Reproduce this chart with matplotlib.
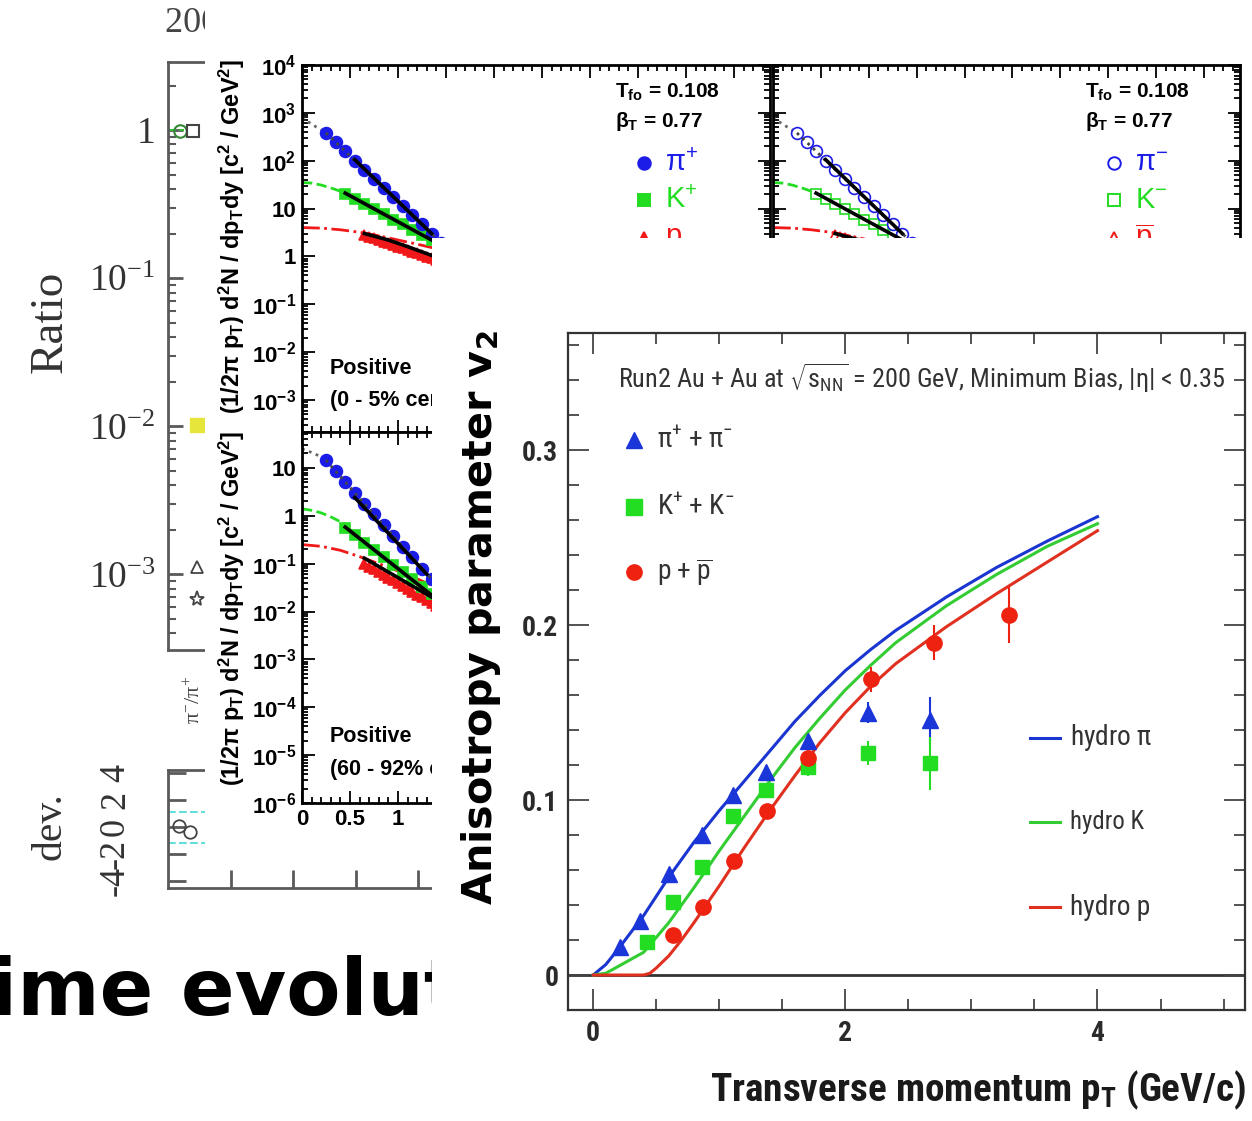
import numpy as np
import matplotlib
matplotlib.use("Agg")
import matplotlib.pyplot as plt
from matplotlib import font_manager
from matplotlib.font_manager import FontProperties
from matplotlib.patches import Rectangle
from matplotlib.ticker import LogLocator, MultipleLocator, NullFormatter

W, H = 1252, 1121

# ---------------- spectra, 0-5% central (top panels) ----------------
c_pi_pt = [0.25, 0.35, 0.45, 0.55, 0.65, 0.75, 0.85, 0.95, 1.05, 1.15, 1.25, 1.35, 1.45, 1.55]
c_pi = [380, 245, 158, 100, 65, 42, 27, 17.4, 11.2, 7.2, 4.7, 3.0, 1.95, 1.26]
c_k_pt = [0.45, 0.55, 0.65, 0.75, 0.85, 0.95, 1.05, 1.15, 1.25, 1.35, 1.45, 1.55]
c_k = [20.4, 15.8, 12.6, 9.8, 7.6, 5.9, 4.7, 3.6, 2.8, 2.24, 1.74, 1.35]
c_p_pt = [0.65, 0.70, 0.75, 0.80, 0.85, 0.90, 0.95, 1.00, 1.05, 1.10,
          1.15, 1.20, 1.25, 1.30, 1.35, 1.40, 1.45, 1.50, 1.55]
c_p = [2.82, 2.60, 2.40, 2.21, 2.04, 1.88, 1.74, 1.60, 1.48, 1.36,
       1.26, 1.16, 1.07, 0.99, 0.91, 0.84, 0.78, 0.72, 0.66]
# blast-wave fits (black) and their extrapolation to low pT
c_fit_pi_pt, c_fit_pi = [0.55, 1.35], [105, 3.0]
c_fit_k_pt, c_fit_k = [0.45, 1.35], [21, 2.2]
c_fit_p_pt, c_fit_p = [0.65, 0.9, 1.1, 1.35], [3.0, 2.2, 1.6, 1.05]
c_ext_pi_pt, c_ext_pi = [0.0, 0.1, 0.2, 0.3], [800, 580, 440, 320]
c_ext_k_pt, c_ext_k = [0.0, 0.1, 0.2, 0.3, 0.4, 0.5], [35, 34, 31, 27, 23, 19]
c_ext_p_pt = [0.0, 0.2, 0.4, 0.6, 0.8, 1.0, 1.2, 1.4]
c_ext_p = [4.0, 3.9, 3.6, 3.2, 2.7, 2.2, 1.8, 1.45]

# ---------------- spectra, 60-92% (bottom panel) ----------------
e_pi = [14.5, 8.5, 5.1, 3.0, 1.8, 1.07, 0.63, 0.38, 0.22, 0.135, 0.079, 0.048, 0.028, 0.017]
e_k = [0.55, 0.39, 0.275, 0.19, 0.135, 0.095, 0.068, 0.048, 0.033, 0.023, 0.0166, 0.0117]
e_p = [0.100, 0.087, 0.076, 0.067, 0.059, 0.051, 0.045, 0.039, 0.034, 0.030,
       0.026, 0.0226, 0.020, 0.0174, 0.0151, 0.0132, 0.0115, 0.0100, 0.0089]
e_fit_pi_pt, e_fit_pi = [0.55, 1.3], [2.4, 0.06]
e_fit_k_pt, e_fit_k = [0.45, 1.35], [0.58, 0.022]
e_fit_p_pt, e_fit_p = [0.65, 1.35], [0.13, 0.02]
e_ext_pi_pt, e_ext_pi = [0.0, 0.1, 0.2, 0.3], [25, 21, 17, 12]
e_ext_k_pt, e_ext_k = [0.0, 0.1, 0.2, 0.3, 0.4, 0.5], [1.4, 1.3, 1.15, 0.95, 0.75, 0.58]
e_ext_p_pt = [0.0, 0.2, 0.4, 0.6, 0.8, 1.0, 1.2, 1.4]
e_ext_p = [0.25, 0.23, 0.19, 0.14, 0.10, 0.07, 0.048, 0.032]

# ---------------- v2 vs pT ----------------
v2_pi_pt = [0.21, 0.37, 0.60, 0.86, 1.11, 1.37, 1.70, 2.18, 2.67]
v2_pi = [0.016, 0.031, 0.058, 0.080, 0.103, 0.116, 0.134, 0.150, 0.146]
v2_pi_err = [0.002, 0.002, 0.002, 0.002, 0.003, 0.003, 0.004, 0.006, 0.013]
v2_k_pt = [0.43, 0.63, 0.86, 1.11, 1.37, 1.70, 2.18, 2.67]
v2_k = [0.019, 0.042, 0.062, 0.091, 0.106, 0.119, 0.127, 0.121]
v2_k_err = [0.003, 0.003, 0.003, 0.003, 0.004, 0.005, 0.007, 0.015]
v2_p_pt = [0.63, 0.87, 1.12, 1.38, 1.70, 2.20, 2.70, 3.30]
v2_p = [0.023, 0.039, 0.065, 0.094, 0.124, 0.169, 0.190, 0.206]
v2_p_err = [0.003, 0.003, 0.003, 0.004, 0.005, 0.007, 0.010, 0.016]

# hydro curves
hy_pi_pt = [0, 0.1, 0.2, 0.4, 0.6, 0.8, 1.0, 1.2, 1.4, 1.6, 1.8, 2.0, 2.2, 2.4, 2.8, 3.2, 3.6, 4.0]
hy_pi = [0.0, 0.006, 0.015, 0.034, 0.056, 0.076, 0.094, 0.111, 0.128, 0.145, 0.160, 0.174,
         0.186, 0.197, 0.216, 0.233, 0.248, 0.262]
hy_k_pt = [0, 0.1, 0.2, 0.4, 0.6, 0.8, 1.0, 1.2, 1.4, 1.6, 1.8, 2.0, 2.2, 2.4, 2.8, 3.2, 3.6, 4.0]
hy_k = [0.0, 0.001, 0.005, 0.013, 0.030, 0.050, 0.071, 0.091, 0.111, 0.130, 0.147, 0.163,
        0.177, 0.190, 0.211, 0.229, 0.245, 0.258]
hy_p_pt = [0, 0.2, 0.4, 0.45, 0.5, 0.6, 0.7, 0.8, 1.0, 1.2, 1.4, 1.6, 1.8, 2.0, 2.2, 2.4,
           2.8, 3.2, 3.6, 4.0]
hy_p = [0.0, 0.0, 0.0, 0.001, 0.004, 0.011, 0.020, 0.030, 0.051, 0.073, 0.094, 0.114, 0.133,
        0.150, 0.165, 0.178, 0.199, 0.218, 0.236, 0.254]

# ---------------- ratio plot fragments (left, mostly hidden) ----------------
ratio_ticks = [1, 0.1, 0.01, 0.001]
ratio_labels = ['1', '$10^{-1}$', '$10^{-2}$', '$10^{-3}$']
dev_ticks = [4, 2, 0, -2, -4]
dev_labels = ['4', '2', '0', '-2', '-4']

BLUE, GREEN, RED = '#1c1ce8', '#22dd22', '#f01818'


def pick_font(*names):
    for n in names:
        try:
            font_manager.findfont(FontProperties(family=n), fallback_to_default=False)
            return n
        except ValueError:
            pass
    return 'DejaVu Sans'


def find_narrow():
    names = sorted({f.name for f in font_manager.fontManager.ttflist})
    for want in ('Liberation Sans Narrow', 'Roboto Condensed', 'Arial Narrow'):
        if want in names:
            return want, 'normal'
    for n in names:
        if 'Narrow' in n or 'Condensed' in n:
            return n, 'normal'
    for f in font_manager.fontManager.ttflist:
        if f.stretch in ('condensed', 'semi-condensed') and f.name in ('DejaVu Sans', 'Liberation Sans',
                                                                        'Roboto', 'Noto Sans', 'Open Sans'):
            return f.name, f.stretch
    return None, 'normal'


SANS = pick_font('Liberation Sans', 'Arial')
SERIF = pick_font('Liberation Serif', 'DejaVu Serif')
NARROW, NSTRETCH = find_narrow()
if NARROW is None:
    NARROW = SANS

plt.rcParams['mathtext.default'] = 'regular'
plt.rcParams['font.family'] = [SANS, 'DejaVu Sans']

fig = plt.figure(figsize=(W / 100, H / 100), dpi=100)


def box(x0, y0, x1, y1):
    # pixel box, origin top-left -> figure rect
    return [x0 / W, 1 - y1 / H, (x1 - x0) / W, (y1 - y0) / H]


def fx(x):
    return x / W


def fy(y):
    return 1 - y / H


def cover(x0, y0, x1, y1, z):
    fig.add_artist(Rectangle((fx(x0), fy(y1)), (x1 - x0) / W, (y1 - y0) / H,
                             transform=fig.transFigure, facecolor='white',
                             edgecolor='none', zorder=z))


def fit(texts, target_px, vertical=False):
    # scale a group of texts so that the first one spans target_px
    r = fig.canvas.get_renderer()
    bb = texts[0].get_window_extent(renderer=r)
    cur = bb.height if vertical else bb.width
    k = target_px / cur
    for t in texts:
        t.set_fontsize(t.get_fontsize() * k)


# slide title, bottom layer
fig.text(fx(-10), fy(1015), "ime evolution", fontsize=57, fontweight='bold',
         family='DejaVu Sans', va='baseline', ha='left', zorder=0.5)

# ---------------- layer 1: ratio plot ----------------
gray = '#5a5a5a'
ax_r = fig.add_axes(box(168, 62, 640, 650), zorder=1)
ax_r.set_yscale('log')
ax_r.set_yticks(ratio_ticks, ratio_labels, fontsize=27, family=SERIF, color='#333333')
ax_r.yaxis.set_minor_locator(LogLocator(base=10, subs=np.arange(2, 10), numticks=20))
ax_r.yaxis.set_minor_formatter(NullFormatter())
ax_r.set_xlim(0, 7.55)
ax_r.set_ylim(10 ** -3.51, 10 ** 0.46)
ax_r.set_xticks([])
ax_r.tick_params(axis='y', which='major', direction='in', length=11, width=2, color=gray, pad=9)
ax_r.tick_params(axis='y', which='minor', direction='in', length=6, width=1.5, color=gray)
for s in ax_r.spines.values():
    s.set_color(gray)
    s.set_linewidth(2)
ax_r.plot([0, 0.25], [1.0, 1.0], ls='--', color='#33bb33', lw=1.5)
ax_r.plot([0.19], [0.98], 'o', mfc='none', mec='#338833', ms=9, mew=1.5)
ax_r.plot([0.40], [0.98], 's', mfc='none', mec='#444444', ms=8, mew=1.5)
ax_r.plot([0.46], [0.0102], 's', color='#e6e63a', ms=10)
ax_r.plot([0.46], [0.00112], '^', mfc='none', mec='#444444', ms=9, mew=1.3)
ax_r.plot([0.46], [0.00068], '*', mfc='none', mec='#444444', ms=11, mew=1.3)

ax_d = fig.add_axes(box(168, 770, 640, 888), zorder=1)
ax_d.set_xlim(0, 7.55)
ax_d.set_ylim(-4.5, 4.2)
ax_d.set_yticks(dev_ticks, dev_labels, fontsize=26, family=SERIF, color='#333333',
                rotation=90, va='center')
ax_d.set_xticks([1, 2, 3, 4, 5, 6, 7], [])
ax_d.tick_params(axis='both', direction='in', length=13, width=2, color=gray)
ax_d.tick_params(axis='y', pad=26)
for s in ax_d.spines.values():
    s.set_color(gray)
    s.set_linewidth(2)
ax_d.axhline(1.1, ls='--', color='#66dddd', lw=1.5)
ax_d.axhline(-1.2, ls='--', color='#66dddd', lw=1.5)
ax_d.plot([0.17, 0.35], [0.1, -0.4], 'o', mfc='none', mec='#444444', ms=9, mew=1.3)

fig.text(fx(50), fy(322), 'Ratio', rotation=90, fontsize=34, family=SERIF,
         color='#333333', ha='center', va='center', zorder=1.5)
fig.text(fx(50), fy(826), 'dev.', rotation=90, fontsize=30, family=SERIF,
         color='#333333', ha='center', va='center', zorder=1.5)
fig.text(fx(165), fy(24), '200 GeV', fontsize=26, family=SERIF, color='#444444',
         ha='left', va='center', zorder=1.5)
fig.text(fx(195), fy(700), r'$\pi^{-}/\pi^{+}$', rotation=90, fontsize=16, family=SERIF,
         color='#444444', ha='center', va='center', zorder=1.5)

# ---------------- layer 2: spectra figure ----------------
cover(205, 0, W, 866, 2)


def decade_label(e):
    if e == 0:
        return '1'
    if e == 1:
        return '10'
    return '$10^{%d}$' % e


def spectra_axes(rect, emin, emax, ylo, yhi, xlabels):
    ax = fig.add_axes(rect, zorder=3)
    ax.set_yscale('log')
    decs = list(range(emin, emax + 1))
    ax.set_yticks([10.0 ** e for e in decs], [decade_label(e) for e in decs],
                  fontsize=16, fontweight='bold')
    ax.yaxis.set_minor_locator(LogLocator(base=10, subs=np.arange(2, 10), numticks=30))
    ax.yaxis.set_minor_formatter(NullFormatter())
    xt = [0, 0.5, 1, 1.5, 2, 2.5, 3, 3.5, 4, 4.5]
    if xlabels:
        ax.set_xticks(xt, ['0', '0.5', '1', '1.5', '2', '2.5', '3', '3.5', '4', '4.5'],
                      fontsize=16, fontweight='bold')
    else:
        ax.set_xticks(xt, [])
    ax.xaxis.set_minor_locator(MultipleLocator(0.1))
    ax.set_xlim(0, 4.875)
    ax.set_ylim(ylo, yhi)
    ax.tick_params(which='both', direction='in', top=True, right=True, width=1.3, pad=4)
    ax.tick_params(which='major', length=9)
    ax.tick_params(which='minor', length=4.5)
    for s in ax.spines.values():
        s.set_linewidth(2)
    return ax


def draw_spectra(ax, pi, k, p, fits, exts, hollow):
    (fpi_x, fpi), (fk_x, fk), (fp_x, fp) = fits
    (xpi_x, xpi), (xk_x, xk), (xp_x, xp) = exts
    ax.plot(xk_x, xk, ls='--', color=GREEN, lw=2, zorder=2)
    ax.plot(xp_x, xp, ls='-.', color=RED, lw=2, zorder=2)
    ax.plot(xpi_x, xpi, ls=':', color='#666666', lw=2, zorder=2)
    face = 'white' if hollow else None
    ax.plot(p[0], p[1], '^', color=RED, ms=7.5, mfc=face or RED, mew=1.2, ls='none', zorder=3)
    ax.plot(k[0], k[1], 's', color=GREEN, ms=7.5, mfc=face or GREEN, mew=1.2, ls='none', zorder=3)
    ax.plot(pi[0], pi[1], 'o', color=BLUE, ms=8.5, mfc=face or BLUE, mew=1.2, ls='none', zorder=3)
    ax.plot(pi[0], pi[1], ls=':', color='#444444', lw=2, zorder=4)
    ax.plot(fpi_x, fpi, color='black', lw=2.6, zorder=5)
    ax.plot(fk_x, fk, color='black', lw=2.6, zorder=5)
    ax.plot(fp_x, fp, color='black', lw=2.6, zorder=5)


def spectra_legend(ax, neg):
    ax.text(0.668, 0.926, 'T$_{fo}$ = 0.108', transform=ax.transAxes, fontsize=15,
            fontweight='bold', va='center')
    ax.text(0.668, 0.845, r'$\beta_T$ = 0.77', transform=ax.transAxes, fontsize=15,
            fontweight='bold', va='center')
    ys = [0.733, 0.632, 0.528]
    marks = ['o', 's', '^']
    cols = [BLUE, GREEN, RED]
    labs = [r'$\pi^{-}$', r'$K^{-}$', r'$\overline{p}$'] if neg else [r'$\pi^{+}$', r'$K^{+}$', r'$p$']
    for y, m, c, lab in zip(ys, marks, cols, labs):
        ax.plot([0.73], [y], m, transform=ax.transAxes, color=c, ms=9,
                mfc='white' if neg else c, mew=1.4, clip_on=False)
        ax.text(0.775, y, lab, transform=ax.transAxes, color=c, fontsize=21, va='center')


ax_a = spectra_axes(box(302, 65, 770, 432), -3, 4, 10 ** -3.67, 10 ** 4, False)
draw_spectra(ax_a, (c_pi_pt, c_pi), (c_k_pt, c_k), (c_p_pt, c_p),
             [(c_fit_pi_pt, c_fit_pi), (c_fit_k_pt, c_fit_k), (c_fit_p_pt, c_fit_p)],
             [(c_ext_pi_pt, c_ext_pi), (c_ext_k_pt, c_ext_k), (c_ext_p_pt, c_ext_p)], False)
spectra_legend(ax_a, False)
ax_a.text(0.06, 0.174, 'Positive', transform=ax_a.transAxes, fontsize=15.5, fontweight='bold', va='center')
ax_a.text(0.06, 0.087, '(0 - 5% central)', transform=ax_a.transAxes, fontsize=15.5,
          fontweight='bold', va='center')

# negative charges look the same as the positives at this resolution
ax_b = spectra_axes(box(773, 65, 1240, 432), -3, 4, 10 ** -3.67, 10 ** 4, False)
ax_b.set_yticklabels([])
draw_spectra(ax_b, (c_pi_pt, c_pi), (c_k_pt, c_k), (c_p_pt, c_p),
             [(c_fit_pi_pt, c_fit_pi), (c_fit_k_pt, c_fit_k), (c_fit_p_pt, c_fit_p)],
             [(c_ext_pi_pt, c_ext_pi), (c_ext_k_pt, c_ext_k), (c_ext_p_pt, c_ext_p)], True)
spectra_legend(ax_b, True)

ax_c = spectra_axes(box(302, 432, 770, 803), -6, 1, 10 ** -6, 10 ** 1.75, True)
draw_spectra(ax_c, (c_pi_pt, e_pi), (c_k_pt, e_k), (c_p_pt, e_p),
             [(e_fit_pi_pt, e_fit_pi), (e_fit_k_pt, e_fit_k), (e_fit_p_pt, e_fit_p)],
             [(e_ext_pi_pt, e_ext_pi), (e_ext_k_pt, e_ext_k), (e_ext_p_pt, e_ext_p)], False)
ax_c.text(0.06, 0.178, 'Positive', transform=ax_c.transAxes, fontsize=15.5, fontweight='bold', va='center')
ax_c.text(0.06, 0.089, '(60 - 92% central)', transform=ax_c.transAxes, fontsize=15.5,
          fontweight='bold', va='center')

ylab = r'(1/2$\pi$ p$_T$) d$^2$N / dp$_T$dy [c$^2$ / GeV$^2$]'
yl1 = fig.text(fx(232), fy(236), ylab, rotation=90, fontsize=15, fontweight='bold',
               ha='center', va='center', zorder=3.5)
yl2 = fig.text(fx(232), fy(608), ylab, rotation=90, fontsize=15, fontweight='bold',
               ha='center', va='center', zorder=3.5)
fit([yl1, yl2], 356, vertical=True)

# ---------------- layer 3: v2 figure ----------------
cover(432, 238, W, H, 4)

ink = '#2a2a2a'
nf = dict(family=NARROW, fontstretch=NSTRETCH)
ax_v = fig.add_axes(box(568, 333, 1245, 1010), zorder=5)
ax_v.set_xticks([0, 2, 4], ['0', '2', '4'], fontsize=20, fontweight='bold', color=ink, **nf)
ax_v.set_yticks([0, 0.1, 0.2, 0.3], ['0', '0.1', '0.2', '0.3'], fontsize=20, fontweight='bold',
                color=ink, **nf)
ax_v.xaxis.set_minor_locator(MultipleLocator(0.5))
ax_v.yaxis.set_minor_locator(MultipleLocator(0.02))
ax_v.set_xlim(-0.2, 5.17)
ax_v.set_ylim(-0.02, 0.367)
ax_v.tick_params(which='both', direction='in', top=True, right=True, width=1.3, color='#444444')
ax_v.tick_params(which='major', length=15, pad=7)
ax_v.tick_params(which='minor', length=8)
for s in ax_v.spines.values():
    s.set_linewidth(1.6)
    s.set_color('#333333')
ax_v.axhline(0, color='#333333', lw=2, zorder=1)

ax_v.plot(hy_pi_pt, hy_pi, color='#1a35d0', lw=2.2, zorder=2)
ax_v.plot(hy_k_pt, hy_k, color='#33cc33', lw=2.2, zorder=2)
ax_v.plot(hy_p_pt, hy_p, color='#e03020', lw=2.2, zorder=2)
ax_v.errorbar(v2_pi_pt, v2_pi, yerr=v2_pi_err, fmt='^', color='#1a35d8', ms=11, elinewidth=1.5, zorder=3)
ax_v.errorbar(v2_k_pt, v2_k, yerr=v2_k_err, fmt='s', color='#22dd22', ms=10, elinewidth=1.5, zorder=3)
ax_v.errorbar(v2_p_pt, v2_p, yerr=v2_p_err, fmt='o', color='#ee2211', ms=11, elinewidth=1.5, zorder=3)

title = ax_v.text(0.0745, 0.9335,
                  r'Run2 Au + Au at $\sqrt{s_{NN}}$ = 200 GeV, Minimum Bias, $|\eta|$ < 0.35',
                  transform=ax_v.transAxes, ha='left', va='center', fontsize=22,
                  color='#333333', **nf)

leg_y = [0.842, 0.743, 0.647]
leg_m = ['^', 's', 'o']
leg_c = ['#1a35d8', '#22dd22', '#ee2211']
leg_t = [r'$\pi^{+}$ + $\pi^{-}$', r'K$^{+}$ + K$^{-}$', r'p + $\overline{p}$']
leg_texts = []
for y, m, c, t in zip(leg_y, leg_m, leg_c, leg_t):
    ax_v.plot([0.098], [y], m, transform=ax_v.transAxes, color=c, ms=11, clip_on=False)
    leg_texts.append(ax_v.text(0.132, y, t, transform=ax_v.transAxes, va='center',
                               fontsize=22, color='#333333', **nf))

hy_y = [0.402, 0.278, 0.152]
hy_c = ['#1a35d0', '#33cc33', '#e03020']
hy_t = [r'hydro $\pi$', 'hydro K', 'hydro p']
hy_texts = []
for y, c, t in zip(hy_y, hy_c, hy_t):
    ax_v.plot([0.682, 0.727], [y, y], transform=ax_v.transAxes, color=c, lw=2.2)
    hy_texts.append(ax_v.text(0.741, y, t, transform=ax_v.transAxes, va='center',
                              fontsize=22, color='#333333', **nf))

vlab = fig.text(fx(481), fy(618), r'Anisotropy parameter v$_2$', rotation=90, fontsize=28,
                fontweight='bold', family='DejaVu Sans', ha='center', va='center', zorder=5.5)
xlab = fig.text(fx(1246), fy(1090), r'Transverse momentum p$_T$ (GeV/c)', fontsize=30,
                fontweight='bold', color='#1a1a1a', ha='right', va='center', zorder=5.5, **nf)

fit([title], 607)
fit([hy_texts[1]] + hy_texts + leg_texts, 82)
fit([vlab], 575, vertical=True)
fit([xlab], 535)

fig.savefig('out.png', dpi=100)
